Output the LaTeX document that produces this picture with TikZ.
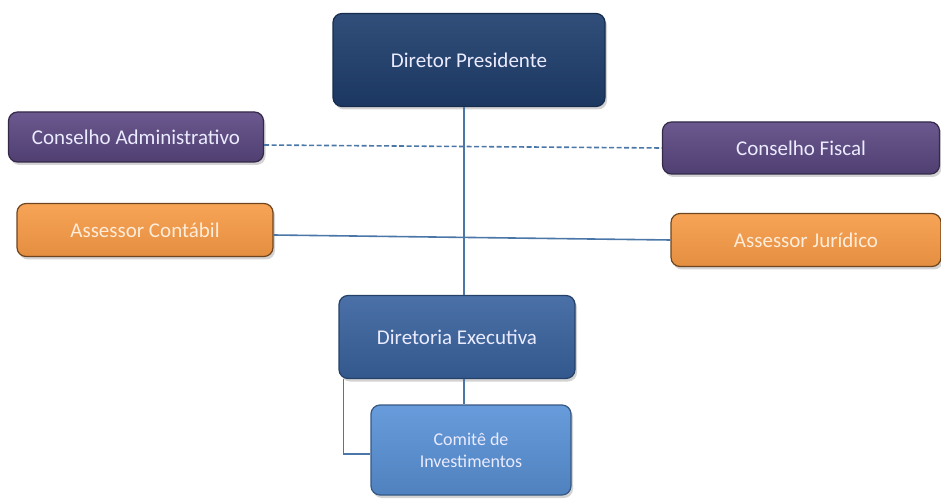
\documentclass[tikz,border=0pt]{standalone}
\usepackage{fontspec}
\setmainfont{Carlito}
\usepackage{xcolor}
\usetikzlibrary{shadows}

\definecolor{presBlue}{HTML}{1F3F6E}
\definecolor{execBlue}{HTML}{3A64A0}
\definecolor{comBlue}{HTML}{5A93D8}
\definecolor{conPurple}{HTML}{5E4A85}
\definecolor{assOrange}{HTML}{F79A45}
\definecolor{lineBlue}{HTML}{4A76A8}

\begin{document}
\begin{tikzpicture}[x=1pt, y=-1pt,
    box/.style={rectangle, rounded corners=9pt, inner sep=0pt, align=center, line width=1.2pt,
        font=\fontsize{21}{24}\selectfont,
        drop shadow={shadow xshift=2pt, shadow yshift=-3pt, opacity=0.35}},
    pres/.style={box, top color=presBlue!92!white, bottom color=presBlue!88!black, draw=presBlue!70!black, text=white!92!blue},
    exec/.style={box, top color=execBlue!92!white, bottom color=execBlue!88!black, draw=execBlue!65!black, text=white!92!blue},
    comite/.style={box, top color=comBlue!92!white, bottom color=comBlue!88!black, draw=comBlue!60!black, text=white!92!blue, font=\fontsize{18}{22}\selectfont},
    conselho/.style={box, top color=conPurple!92!white, bottom color=conPurple!85!black, draw=conPurple!55!black, text=white!92!blue},
    assessor/.style={box, top color=assOrange!90!white, bottom color=assOrange!92!black, draw=assOrange!45!black, text=white!85!orange},
    link/.style={draw=lineBlue, line width=1.6pt}]
    \useasboundingbox (0,0) rectangle (941,502);

    \node[pres, minimum width=272pt, minimum height=93pt] (dirPres) at (469,60) {Diretor Presidente};
    \node[conselho, minimum width=255pt, minimum height=50pt] (consAdm) at (136,137) {Conselho Administrativo};
    \node[conselho, minimum width=277pt, minimum height=52pt] (consFis) at (801,148) {Conselho Fiscal};
    \node[assessor, minimum width=256pt, minimum height=53pt] (assCont) at (145,230) {Assessor Contábil};
    \node[assessor, minimum width=270pt, minimum height=53pt] (assJur) at (806,240) {Assessor Jurídico};
    \node[exec, minimum width=236pt, minimum height=83pt] (dirExec) at (457,337) {Diretoria Executiva};
    \node[comite, minimum width=200pt, minimum height=90pt] (comInv) at (471,450) {Comitê de\\Investimentos};

    \coordinate (spine) at (464,0);

    \draw[link] (dirPres.south -| spine) -- (dirExec.north -| spine);
    \draw[link, dash pattern=on 5pt off 2.5pt] ([yshift=-8pt]consAdm.east) -- (consFis.west);
    \draw[link] ([yshift=-5pt]assCont.east) -- (assJur.west);
    \draw[link] (dirExec.south -| spine) -- (comInv.north -| spine);
    \draw[link] ([xshift=5pt]dirExec.south west) |- ([yshift=-4pt]comInv.west);
\end{tikzpicture}
\end{document}
